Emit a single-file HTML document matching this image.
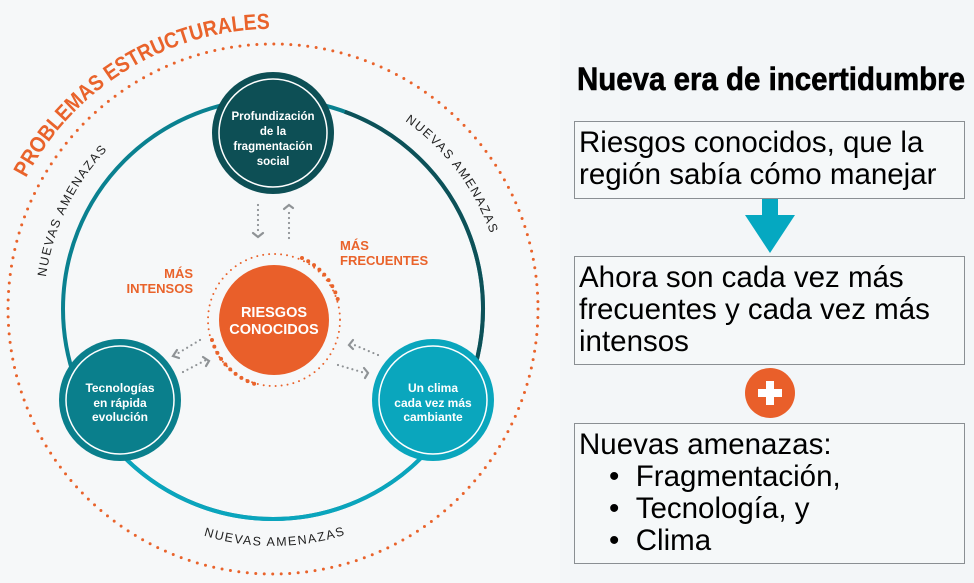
<!DOCTYPE html>
<html><head><meta charset="utf-8"><style>
html,body{margin:0;padding:0;background:#f3f6f8;}
body{width:974px;height:583px;overflow:hidden;position:relative;font-family:"Liberation Sans",sans-serif;}
.box{position:absolute;left:574px;width:391px;border:1.5px solid #8a8f93;background:#f5f8f9;box-sizing:border-box;font-size:29.5px;line-height:32px;color:#000;padding:5px 0 0 4px;white-space:nowrap;}
</style></head><body>
<svg width="974" height="583" style="position:absolute;left:0;top:0">
<defs>
<path id="arcTop" d="M 26 178 A 280 280 0 0 1 283 29"/>
<path id="arcL" d="M 46 277 A 230 230 0 0 1 131 128"/>
<path id="arcR" d="M 405 121 A 230 230 0 0 1 498 261"/>
<path id="arcB" d="M 203.7 535.6 A 237 237 0 0 0 342.3 535.6"/>
</defs>
<rect x="0" y="0" width="560" height="583" fill="#f6f8f9"/>
<circle cx="273" cy="309" r="265" fill="none" stroke="#e9632b" stroke-width="3" stroke-linecap="round" stroke-dasharray="0 8.5"/>
<circle cx="273" cy="309" r="210" fill="none" stroke="#0a8190" stroke-width="4"/>
<path d="M 344.8 111.7 A 210 210 0 0 1 454.9 414" fill="none" stroke="#0d5158" stroke-width="4"/>
<path d="M 433.9 444 A 210 210 0 0 1 112.1 444" fill="none" stroke="#0aa5bd" stroke-width="4"/>
<text font-family="Liberation Sans" font-weight="bold" font-size="22" fill="#e9632b"><textPath href="#arcTop" textLength="300" lengthAdjust="spacingAndGlyphs">PROBLEMAS ESTRUCTURALES</textPath></text>
<text font-family="Liberation Sans" font-size="12.5" letter-spacing="1.5" fill="#222"><textPath href="#arcL">NUEVAS AMENAZAS</textPath></text>
<text font-family="Liberation Sans" font-size="12.5" letter-spacing="1.5" fill="#222"><textPath href="#arcR">NUEVAS AMENAZAS</textPath></text>
<text font-family="Liberation Sans" font-size="12.5" letter-spacing="1.5" fill="#222"><textPath href="#arcB">NUEVAS AMENAZAS</textPath></text>
<circle cx="274" cy="320" r="66" fill="none" stroke="#e9632b" stroke-width="2" stroke-linecap="round" stroke-dasharray="0 6"/>
<path d="M 302 258 A 66 66 0 0 1 338 300" fill="none" stroke="#e9632b" stroke-width="4" stroke-linecap="round" stroke-dasharray="0 7"/>
<path d="M 212 340 A 66 66 0 0 0 255 384" fill="none" stroke="#e9632b" stroke-width="4" stroke-linecap="round" stroke-dasharray="0 7"/>
<circle cx="274" cy="320" r="55" fill="#e95f2a"/>
<text x="274" y="317" text-anchor="middle" font-weight="bold" font-size="14.5" fill="#fff">RIESGOS</text>
<text x="274" y="334" text-anchor="middle" font-weight="bold" font-size="14.5" fill="#fff">CONOCIDOS</text>
<text font-weight="bold" font-size="13" fill="#e9632b"><tspan x="340" y="250">MÁS</tspan><tspan x="340" y="265">FRECUENTES</tspan></text>
<text font-weight="bold" font-size="13" fill="#e9632b" text-anchor="end"><tspan x="193" y="278">MÁS</tspan><tspan x="193" y="293">INTENSOS</tspan></text>
<g stroke="#8f9396" stroke-width="2.2" fill="none" stroke-linecap="round">
<path d="M258 205 V235" stroke-dasharray="0 5"/><path d="M253 233 l5 4 l5 -4"/>
<path d="M289 238 V210" stroke-dasharray="0 5"/><path d="M284 209 l5 -4 l4 3"/>
<path d="M200 340 L175 355" stroke-dasharray="0 5"/><path d="M177 350 l-4 6 l6 2"/>
<path d="M183 372 L206 360" stroke-dasharray="0 5"/><path d="M203 357 l6 4 l-3 5"/>
<path d="M378 355 L352 344" stroke-dasharray="0 5"/><path d="M353 340 l-4 5 l4 4"/>
<path d="M338 365 L365 373" stroke-dasharray="0 5"/><path d="M364 368 l4 5 l-3 5"/>
</g>
<circle cx="273" cy="133" r="61" fill="#0d4f55"/><circle cx="273" cy="133" r="54" fill="none" stroke="#fff" stroke-width="1.5"/>
<text text-anchor="middle" font-weight="bold" font-size="11.5" fill="#fff"><tspan x="273" y="120">Profundización</tspan><tspan x="273" y="135">de la</tspan><tspan x="273" y="150">fragmentación</tspan><tspan x="273" y="165">social</tspan></text>
<circle cx="120" cy="400" r="61" fill="#0a7f8c"/><circle cx="120" cy="400" r="54" fill="none" stroke="#fff" stroke-width="1.5"/>
<text text-anchor="middle" font-weight="bold" font-size="12" fill="#fff"><tspan x="120" y="392">Tecnologías</tspan><tspan x="120" y="407">en rápida</tspan><tspan x="120" y="421">evolución</tspan></text>
<circle cx="433" cy="400" r="61" fill="#0aa6bd"/><circle cx="433" cy="400" r="54" fill="none" stroke="#fff" stroke-width="1.5"/>
<text text-anchor="middle" font-weight="bold" font-size="12" fill="#fff"><tspan x="433" y="392">Un clima</tspan><tspan x="433" y="407">cada vez más</tspan><tspan x="433" y="421">cambiante</tspan></text>
<text x="577" y="90" font-family="Liberation Sans Narrow, Liberation Sans" font-weight="bold" font-size="32" textLength="388" lengthAdjust="spacingAndGlyphs" fill="#000" stroke="#000" stroke-width="0.6">Nueva era de incertidumbre</text>
<rect x="762" y="198" width="16" height="18" fill="#05a8c1"/>
<polygon points="745,215 795,215 770,253" fill="#05a8c1"/>
<circle cx="770" cy="393" r="25" fill="#e95f2a"/>
<rect x="758" y="389" width="24" height="8" fill="#fff"/><rect x="766" y="381" width="8" height="24" fill="#fff"/>
</svg>
<div class="box" style="top:121px;height:78px;">Riesgos conocidos, que la<br>región sabía cómo manejar</div>
<div class="box" style="top:256px;height:109px;">Ahora son cada vez más<br>frecuentes y cada vez más<br>intensos</div>
<div class="box" style="top:423px;height:141px;">Nuevas amenazas:<br><span style="padding-left:30px">•&nbsp;&nbsp;Fragmentación,</span><br><span style="padding-left:30px">•&nbsp;&nbsp;Tecnología, y</span><br><span style="padding-left:30px">•&nbsp;&nbsp;Clima</span></div>
</body></html>
